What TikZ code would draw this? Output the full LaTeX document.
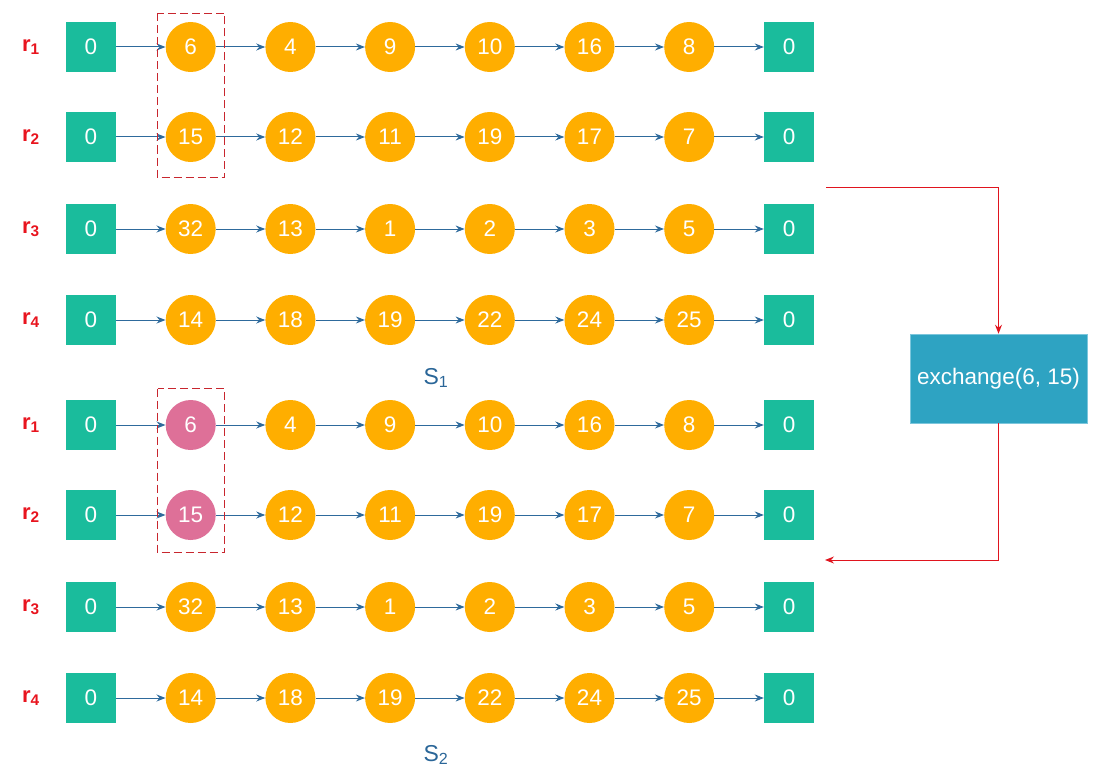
\documentclass[tikz,border=0pt]{standalone}
\usepackage{fontspec}
\setmainfont{Liberation Sans}
\usetikzlibrary{arrows.meta}
\definecolor{teal1}{HTML}{1ABC9C}
\definecolor{orng}{HTML}{FFAE00}
\definecolor{pink1}{HTML}{DE7098}
\definecolor{exfill}{HTML}{2EA3C2}
\definecolor{exedge}{HTML}{7CC6DC}
\definecolor{lineblue}{HTML}{2E6A9C}
\definecolor{redl}{HTML}{E0141E}
\definecolor{dashred}{HTML}{C8262E}
\definecolor{labred}{HTML}{E8141E}
\definecolor{sblue}{HTML}{2A6698}
\begin{document}
\begin{tikzpicture}[x=1pt,y=-1pt,
  numfont/.style={font=\fontsize{22.5}{26}\selectfont},
  sq/.style={numfont, fill=teal1, minimum width=50pt, minimum height=50pt, inner sep=0pt, text=white},
  cir/.style={numfont, circle, minimum size=50pt, inner sep=0pt, text=white},
  link/.style={draw=lineblue, line width=1pt, -{Stealth[length=9pt,width=7pt,inset=3pt]}},
  redarrow/.style={draw=redl, line width=1pt, -{Stealth[length=9pt,width=7pt,inset=3pt]}},
  rowlab/.style={text=labred, font=\fontsize{22}{26}\selectfont\bfseries, inner sep=0pt},
  slab/.style={text=sblue, font=\fontsize{23}{27}\selectfont, inner sep=0pt},
  dashbox/.style={draw=dashred, line width=1.1pt, dash pattern=on 8pt off 4pt},
  exbox/.style={fill=exfill, draw=exedge, line width=0.6pt, minimum width=177pt, minimum height=89pt, inner sep=0pt, text=white, font=\fontsize{22.5}{26}\selectfont}]
\useasboundingbox (0,0) rectangle (1097,773);

\foreach \blk/\yo in {1/0, 2/378} {
  \foreach \r/\y/\vals in {1/47/{6,4,9,10,16,8}, 2/137/{15,12,11,19,17,7}, 3/229/{32,13,1,2,3,5}, 4/320/{14,18,19,22,24,25}} {
    \pgfmathsetmacro{\yy}{\y+\yo}
    \node[rowlab] (lab\blk-\r) at (31,\yy) {r\textsubscript{\r}};
    \node[sq] (n\blk-\r-0) at (91,\yy) {0};
    \foreach \v [count=\i] in \vals {
      \def\fc{orng}
      \ifnum\blk=2 \ifnum\r<3 \ifnum\i=1 \def\fc{pink1}\fi\fi\fi
      \pgfmathsetmacro{\xx}{91+99.7*\i}
      \node[cir, fill=\fc] (n\blk-\r-\i) at (\xx,\yy) {\v};
    }
    \node[sq] (n\blk-\r-7) at (789,\yy) {0};
    \foreach \a/\b in {0/1,1/2,2/3,3/4,4/5,5/6,6/7} {
      \draw[link] (n\blk-\r-\a) -- (n\blk-\r-\b);
    }
  }
}

\node[slab] (S1) at (436,378) {S\textsubscript{1}};
\node[slab] (S2) at (436,755) {S\textsubscript{2}};

\draw[dashbox] (157.5,13.5) rectangle (224.5,177.5);
\draw[dashbox] (157.5,388.5) rectangle (224.5,552.5);

\node[exbox] (ex) at (998.5,378.5) {exchange(6, 15)};
\coordinate (a1) at (826,187);
\coordinate (a2) at (825,560);
\draw[redarrow] (a1) -| (ex.north);
\draw[redarrow] (ex.south) |- (a2);
\end{tikzpicture}
\end{document}
